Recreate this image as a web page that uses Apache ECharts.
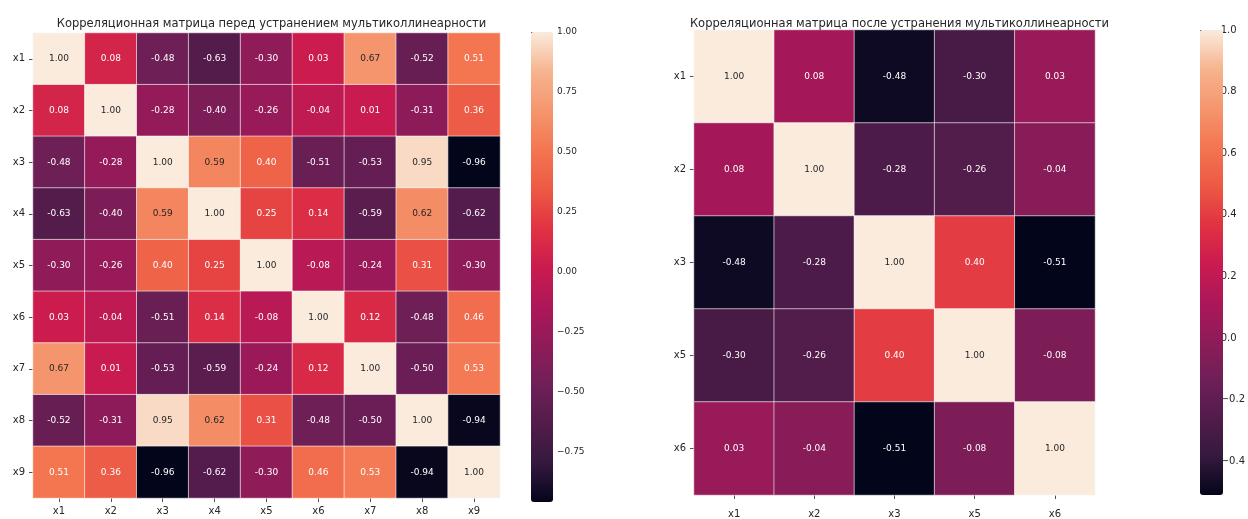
<!DOCTYPE html>
<html>
<head>
<meta charset="utf-8">
<script src="https://cdn.jsdelivr.net/npm/echarts@6/dist/echarts.min.js"></script>
<style>
  html, body { margin: 0; padding: 0; background: #ffffff; }
  #chart { width: 1248px; height: 519px; }
</style>
</head>
<body>
<div id="chart"></div>
<script>
// Correlation matrices before and after removing multicollinear features
const titleBefore = 'Корреляционная матрица перед устранением мультиколлинеарности';
const titleAfter = 'Корреляционная матрица после устранения мультиколлинеарности';

const categoriesBefore = ['x1', 'x2', 'x3', 'x4', 'x5', 'x6', 'x7', 'x8', 'x9'];
const corrBefore = [
  [ 1.00,  0.08, -0.48, -0.63, -0.30,  0.03,  0.67, -0.52,  0.51],
  [ 0.08,  1.00, -0.28, -0.40, -0.26, -0.04,  0.01, -0.31,  0.36],
  [-0.48, -0.28,  1.00,  0.59,  0.40, -0.51, -0.53,  0.95, -0.96],
  [-0.63, -0.40,  0.59,  1.00,  0.25,  0.14, -0.59,  0.62, -0.62],
  [-0.30, -0.26,  0.40,  0.25,  1.00, -0.08, -0.24,  0.31, -0.30],
  [ 0.03, -0.04, -0.51,  0.14, -0.08,  1.00,  0.12, -0.48,  0.46],
  [ 0.67,  0.01, -0.53, -0.59, -0.24,  0.12,  1.00, -0.50,  0.53],
  [-0.52, -0.31,  0.95,  0.62,  0.31, -0.48, -0.50,  1.00, -0.94],
  [ 0.51,  0.36, -0.96, -0.62, -0.30,  0.46,  0.53, -0.94,  1.00]
];
const colorbarTicksBefore = [-0.75, -0.50, -0.25, 0.00, 0.25, 0.50, 0.75, 1.00];

const categoriesAfter = ['x1', 'x2', 'x3', 'x5', 'x6'];
const corrAfter = [
  [ 1.00,  0.08, -0.48, -0.30,  0.03],
  [ 0.08,  1.00, -0.28, -0.26, -0.04],
  [-0.48, -0.28,  1.00,  0.40, -0.51],
  [-0.30, -0.26,  0.40,  1.00, -0.08],
  [ 0.03, -0.04, -0.51, -0.08,  1.00]
];
const colorbarTicksAfter = [-0.4, -0.2, 0.0, 0.2, 0.4, 0.6, 0.8, 1.0];

// "rocket"-style sequential palette, dark to light
const rocket = ['#03051a', '#35193e', '#521c4b', '#701f57', '#8f1b59', '#ad1759',
                '#cb1b4f', '#e13342', '#ed5a45', '#f37651', '#f5966e', '#f6b48f', '#faebdd'];

const FONT = 'DejaVu Sans';
const TEXT = '#262626';

function matrixMin(m) { return Math.min.apply(null, m.map(r => Math.min.apply(null, r))); }
function matrixMax(m) { return Math.max.apply(null, m.map(r => Math.max.apply(null, r))); }

function heatData(m) {
  const lo = matrixMin(m), hi = matrixMax(m);
  const out = [];
  m.forEach((row, r) => row.forEach((v, c) => {
    const t = (v - lo) / (hi - lo);
    out.push({ value: [c, r, v], label: { color: t > 0.77 ? TEXT : '#ffffff' } });
  }));
  return out;
}

function fmtMinus(v, digits) {
  const s = Math.abs(v).toFixed(digits);
  return v < 0 ? '\u2212' + s : s;
}

const panels = [
  { cats: categoriesBefore, m: corrBefore, ticks: colorbarTicksBefore, digits: 2,
    grid: { left: 33, top: 33, width: 467, height: 465 },
    bar: { left: 531, top: 32, width: 22, height: 470 },
    title: titleBefore, xLabelMargin: 8, labelSize: 9, barFont: 9, barMargin: 4 },
  { cats: categoriesAfter, m: corrAfter, ticks: colorbarTicksAfter, digits: 1,
    grid: { left: 694, top: 30, width: 401, height: 465 },
    bar: { left: 1200, top: 30, width: 23, height: 465 },
    title: titleAfter, xLabelMargin: 14, labelSize: 9, barFont: 10, barMargin: 5 }
];

const option = {
  backgroundColor: '#ffffff',
  animation: false,
  title: [], grid: [], xAxis: [], yAxis: [], visualMap: [], series: []
};

panels.forEach((p, k) => {
  const lo = matrixMin(p.m), hi = matrixMax(p.m);
  option.title.push({
    text: p.title,
    left: p.grid.left + p.grid.width / 2,
    top: 13,
    textAlign: 'center',
    textStyle: { fontFamily: FONT, fontSize: 11.5, fontWeight: 'normal', color: TEXT }
  });
  // heatmap grid
  option.grid.push({ left: p.grid.left, top: p.grid.top, width: p.grid.width, height: p.grid.height });
  option.xAxis.push({
    type: 'category', data: p.cats, gridIndex: 2 * k, position: 'bottom',
    axisLine: { show: false },
    axisTick: { show: true, alignWithLabel: true, length: 4, lineStyle: { color: TEXT, width: 0.8 } },
    axisLabel: { fontFamily: FONT, fontSize: 10, color: TEXT, margin: p.xLabelMargin },
    splitLine: { show: false }
  });
  option.yAxis.push({
    type: 'category', data: p.cats, gridIndex: 2 * k, inverse: true,
    axisLine: { show: false },
    axisTick: { show: true, alignWithLabel: true, length: 4, lineStyle: { color: TEXT, width: 0.8 } },
    axisLabel: { fontFamily: FONT, fontSize: 10, color: TEXT, margin: 8 },
    splitLine: { show: false }
  });
  // colorbar axis grid
  option.grid.push({ left: p.bar.left, top: p.bar.top, width: p.bar.width, height: p.bar.height });
  option.xAxis.push({ type: 'value', gridIndex: 2 * k + 1, show: false, min: 0, max: 1 });
  option.yAxis.push({
    type: 'value', gridIndex: 2 * k + 1, position: 'right', min: lo, max: hi,
    axisLine: { show: false },
    splitLine: { show: false },
    axisTick: { show: true, customValues: p.ticks, length: 3, lineStyle: { color: TEXT, width: 0.8 } },
    axisLabel: {
      show: true, customValues: p.ticks, fontFamily: FONT, fontSize: p.barFont, color: TEXT,
      margin: p.barMargin, formatter: v => fmtMinus(v, p.digits)
    }
  });
  option.visualMap.push({
    type: 'continuous', seriesIndex: k, min: lo, max: hi, calculable: false,
    orient: 'vertical', left: p.bar.left, top: p.bar.top, padding: 0,
    itemWidth: p.bar.width, itemHeight: p.bar.height, text: null, showLabel: false,
    inRange: { color: rocket }
  });
  option.series.push({
    type: 'heatmap', xAxisIndex: 2 * k, yAxisIndex: 2 * k,
    data: heatData(p.m),
    itemStyle: { borderColor: '#ffffff', borderWidth: 0.6 },
    label: {
      show: true, fontFamily: FONT, fontSize: p.labelSize,
      formatter: d => d.value[2].toFixed(2)
    },
    emphasis: { disabled: true }
  });
});

const chart = echarts.init(document.getElementById('chart'), null, { renderer: 'canvas' });
chart.setOption(option);
</script>
</body>
</html>
